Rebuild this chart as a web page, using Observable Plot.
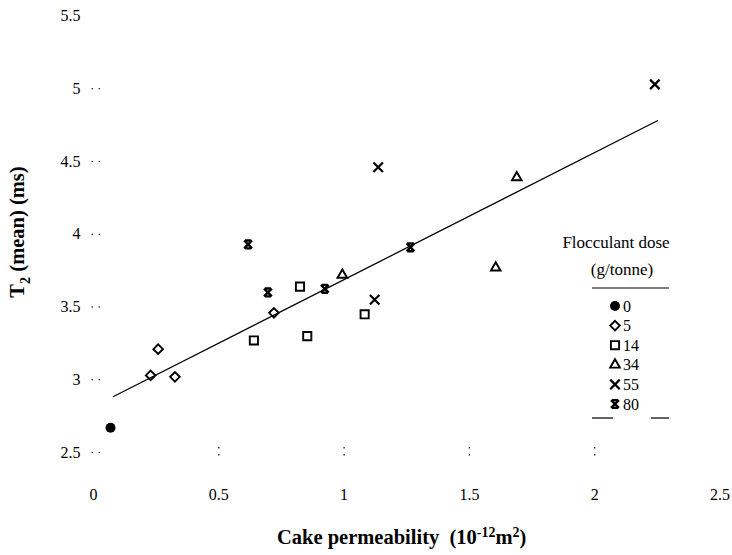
<!DOCTYPE html>
<html>
<head>
<meta charset="utf-8">
<script src="https://cdn.jsdelivr.net/npm/d3@7"></script>
<script src="https://cdn.jsdelivr.net/npm/@observablehq/plot@0.6"></script>
<style>
  html, body { margin: 0; padding: 0; background: #fff; }
  #wrap { position: relative; width: 732px; height: 555px; font-family: "Liberation Serif", "Times New Roman", serif; color: #000; }
  #wrap svg { position: absolute; left: 0; top: 0; }
  .lab { position: absolute; font-weight: bold; white-space: nowrap; }
  .lab sup { font-size: 0.68em; }
  .lab sub { font-size: 0.7em; }
</style>
</head>
<body>
<div id="wrap"></div>
<script>
// ---- data ----
const doses = [0, 5, 14, 34, 55, 80];
const dose0X = [0.068];                    const dose0Y = [2.67];
const dose5X = [0.228, 0.258, 0.325, 0.72]; const dose5Y = [3.03, 3.21, 3.02, 3.46];
const dose14X = [0.64, 0.824, 0.853, 1.082]; const dose14Y = [3.27, 3.64, 3.30, 3.45];
const dose34X = [0.993, 1.605, 1.689];     const dose34Y = [3.72, 3.77, 4.39];
const dose55X = [1.122, 1.136, 2.24];      const dose55Y = [3.55, 4.46, 5.03];
const dose80X = [0.617, 0.696, 0.923, 1.265]; const dose80Y = [3.93, 3.60, 3.625, 3.91];
const fitX = [0.08, 2.25];
const fitY = [2.885, 4.78];
const xTickLabels = [0, 0.5, 1, 1.5, 2, 2.5];
const xTickMarks = [0.5, 1, 1.5, 2];
const yTickLabels = [2.5, 3, 3.5, 4, 4.5, 5, 5.5];
const yTickMarks = [2.5, 3, 3.5, 4, 4.5, 5];
const xLabel = 'Cake permeability&nbsp;&nbsp;(10<sup>-12</sup>m<sup>2</sup>)';
const yLabel = 'T<sub>2</sub> (mean) (ms)';
const legendTitle1 = "Flocculant dose";
const legendTitle2 = "(g/tonne)";

// custom symbol for 80 g/tonne: X with bars top and bottom
const hourglass = {
  draw(ctx, size) {
    const r = Math.sqrt(size / Math.PI) * 0.85;
    const b = r * 0.8;
    ctx.moveTo(-r, -r); ctx.lineTo(r, r);
    ctx.moveTo(r, -r); ctx.lineTo(-r, r);
    ctx.moveTo(-b, -r); ctx.lineTo(b, -r);
    ctx.moveTo(-b, r); ctx.lineTo(b, r);
  }
};

const pts = (xs, ys) => xs.map((x, i) => ({x, y: ys[i]}));
const fit = pts(fitX, fitY);

const font = '"Liberation Serif", "Times New Roman", serif';
const symSpec = [
  {sym: "circle", r: 5, fill: "black", stroke: "none", sw: 0},
  {sym: "diamond2", r: 4.3, fill: "none", stroke: "black", sw: 1.9},
  {sym: "square2", r: 5.2, fill: "none", stroke: "black", sw: 1.9},
  {sym: "triangle2", r: 4.6, fill: "none", stroke: "black", sw: 1.9},
  {sym: "times", r: 4.4, fill: "none", stroke: "black", sw: 2.2},
  {sym: hourglass, r: 4.6, fill: "none", stroke: "black", sw: 2.4}
];
const groups = [
  pts(dose0X, dose0Y), pts(dose5X, dose5Y), pts(dose14X, dose14Y),
  pts(dose34X, dose34Y), pts(dose55X, dose55Y), pts(dose80X, dose80Y)
];

const chart = Plot.plot({
  width: 732,
  height: 555,
  marginLeft: 93,
  marginRight: 12.5,
  marginTop: 15.5,
  marginBottom: 103,
  style: {fontFamily: font, fontSize: "16px", color: "black", background: "white", overflow: "visible"},
  x: {domain: [0, 2.5]},
  y: {domain: [2.5, 5.5]},
  marks: [
    Plot.axisX({ticks: xTickMarks, tickSize: 11, dy: -5, text: null, strokeDasharray: "1.5,5.5", strokeWidth: 1.2, label: null}),
    Plot.axisX({ticks: xTickLabels, tickSize: 0, tickPadding: 36, tickFormat: d => String(d), fontSize: 16, label: null}),
    Plot.axisY({ticks: yTickMarks, tickSize: 12, dx: 7, text: null, strokeDasharray: "1.5,5.5", strokeWidth: 1.2, label: null}),
    Plot.axisY({ticks: yTickLabels, tickSize: 0, tickPadding: 13, tickFormat: d => String(d), fontSize: 16, label: null}),
    Plot.line(fit, {x: "x", y: "y", stroke: "black", strokeWidth: 1.3}),
    ...groups.map((g, i) => Plot.dot(g, {
      x: "x", y: "y", symbol: symSpec[i].sym, r: symSpec[i].r,
      fill: symSpec[i].fill, stroke: symSpec[i].stroke, strokeWidth: symSpec[i].sw
    }))
  ]
});

const wrap = document.getElementById("wrap");
wrap.appendChild(chart);

// legend drawn into the chart SVG
const svg = d3.select(chart);
const lg = svg.append("g").attr("font-family", font).attr("font-size", 16).attr("fill", "black").attr("text-anchor", "start");
lg.append("text").attr("x", 616).attr("y", 242).attr("text-anchor", "middle").attr("font-size", 17).attr("dy", "0.35em").text(legendTitle1);
lg.append("text").attr("x", 622).attr("y", 269).attr("text-anchor", "middle").attr("font-size", 17).attr("dy", "0.35em").text(legendTitle2);
lg.append("line").attr("x1", 592).attr("x2", 669).attr("y1", 288).attr("y2", 288).attr("stroke", "black").attr("stroke-width", 1.2);
const d3Sym = {circle: d3.symbolCircle, diamond2: d3.symbolDiamond2, square2: d3.symbolSquare2, triangle2: d3.symbolTriangle2, times: d3.symbolTimes};
doses.forEach((d, i) => {
  const y = 306 + i * 19.6;
  const s = symSpec[i];
  const type = typeof s.sym === "string" ? d3Sym[s.sym] : s.sym;
  lg.append("path")
    .attr("transform", `translate(615,${y})`)
    .attr("d", d3.symbol(type, Math.PI * s.r * s.r)())
    .attr("fill", s.fill).attr("stroke", s.stroke).attr("stroke-width", s.sw);
  lg.append("text").attr("x", 623).attr("y", y).attr("dy", "0.35em").attr("text-anchor", "start").text(String(d));
});
lg.append("line").attr("x1", 592).attr("x2", 613).attr("y1", 418).attr("y2", 418).attr("stroke", "black").attr("stroke-width", 1.2);
lg.append("line").attr("x1", 651).attr("x2", 669).attr("y1", 418).attr("y2", 418).attr("stroke", "black").attr("stroke-width", 1.2);

// axis titles
const xl = document.createElement("div");
xl.className = "lab";
xl.style.cssText = "left:277px;top:537px;transform:translateY(-50%);font-size:20.5px;";
xl.innerHTML = xLabel;
wrap.appendChild(xl);
const yl = document.createElement("div");
yl.className = "lab";
yl.style.cssText = "left:20px;top:232px;transform:translate(-50%,-50%) rotate(-90deg);font-size:20.5px;";
yl.innerHTML = yLabel;
wrap.appendChild(yl);
</script>
</body>
</html>
